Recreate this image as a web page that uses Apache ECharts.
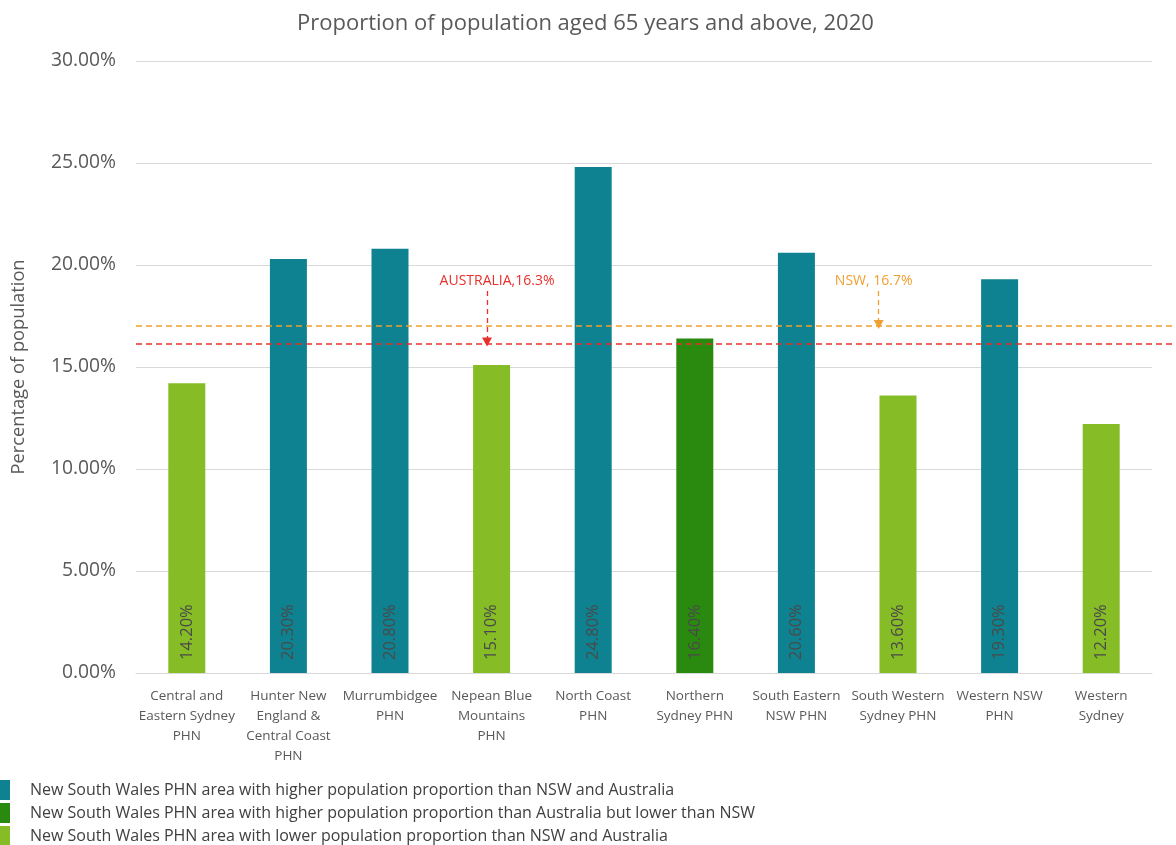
<!DOCTYPE html>
<html><head><meta charset="utf-8">
<script src="https://cdn.jsdelivr.net/npm/echarts@6/dist/echarts.min.js"></script>
<style>html,body{margin:0;padding:0;background:#fff}#c{width:1176px;height:845px}</style>
</head><body><div id="c"></div>
<script>
const categories = ["Central and\nEastern Sydney\nPHN","Hunter New\nEngland &\nCentral Coast\nPHN","Murrumbidgee\nPHN","Nepean Blue\nMountains\nPHN","North Coast\nPHN","Northern\nSydney PHN","South Eastern\nNSW PHN","South Western\nSydney PHN","Western NSW\nPHN","Western\nSydney"];
const values = [0.142,0.203,0.208,0.151,0.248,0.164,0.206,0.136,0.193,0.122];
const groups = [2,0,0,2,0,1,0,2,0,2];
const groupNames = ["New South Wales PHN area with higher population proportion than NSW and Australia","New South Wales PHN area with higher population proportion than Australia but lower than NSW","New South Wales PHN area with lower population proportion than NSW and Australia"];
const groupColors = ["#0E8290","#2A8A10","#86BC25"];
const australiaLine = 0.1615, nswLine = 0.1700;
const australiaText = "AUSTRALIA,16.3%", nswText = "NSW, 16.7%";
// annotation arrows: [x position in category units, top value]
const australiaArrow = [3.455, 0.1873];
const nswArrow = [7.31, 0.1873];

const FONT = 'Open Sans';
const grey = '#595959';
const catW = 101.6;
const chart = echarts.init(document.getElementById('c'));
const barSeries = groupNames.map((name,g)=>({
  name, type:'bar', stack:'s', barWidth:37, xAxisIndex:0, yAxisIndex:0,
  itemStyle:{color:groupColors[g]},
  data: values.map((v,i)=>groups[i]===g ? v : '-'),
  label:{show:true, position:'insideBottom', rotate:90, align:'left', verticalAlign:'middle', distance:13,
    formatter:p=>(p.value*100).toFixed(2)+'%', color:'#4a4a4a', fontSize:16.5, fontFamily:FONT}
}));
function arrow(a, lineVal, text, color, dx){
  return [{coord:[a[0], a[1]], lineStyle:{color, type:[5,4], width:1.3},
           label:{show:true, position:'start', formatter:text, color, fontSize:14, fontFamily:FONT, distance:3, offset:[dx,0]}},
          {coord:[a[0], lineVal]}];
}
chart.setOption({
  animation:false,
  title:{text:'Proportion of population aged 65 years and above, 2020', left:292, top:8,
    textStyle:{color:grey, fontSize:22, fontWeight:'normal', fontFamily:FONT}},
  legend:{orient:'vertical', left:0, top:780, height:75, padding:0, itemWidth:10, itemHeight:20, itemGap:3, icon:'rect',
    data:groupNames, textStyle:{color:'#404040', fontSize:16, lineHeight:20, fontFamily:FONT, padding:[0,0,0,15]}},
  grid:[{left:136, right:1176-136-catW*10, top:61, bottom:172},
        {left:136, right:0, top:61, bottom:172}],
  xAxis:[{type:'category', data:categories, gridIndex:0,
    axisLine:{lineStyle:{color:'#d9d9d9'}}, axisTick:{show:false},
    axisLabel:{interval:0, color:grey, fontSize:13.5, lineHeight:20, margin:13, fontFamily:FONT}},
    {type:'value', gridIndex:1, min:0, max:1040/catW, show:false}],
  yAxis:[{type:'value', min:0, max:0.30, interval:0.05, gridIndex:0,
    name:'Percentage of population', nameLocation:'middle', nameGap:108, nameRotate:90,
    nameTextStyle:{color:grey, fontSize:18.3, fontFamily:FONT},
    axisLine:{show:false}, axisTick:{show:false},
    splitLine:{lineStyle:{color:'#d9d9d9'}},
    axisLabel:{color:grey, fontSize:19.3, margin:20, fontFamily:FONT, formatter:v=>(v*100).toFixed(2)+'%'}},
    {type:'value', min:0, max:0.30, gridIndex:1, show:false}],
  series:[...barSeries,
    {type:'line', xAxisIndex:1, yAxisIndex:1, data:[], silent:true,
      markLine:{silent:true, symbol:'none', precision:4, label:{show:false},
        data:[{yAxis:nswLine, lineStyle:{color:'#F0A030', type:[6,4], width:1.5}},
              {yAxis:australiaLine, lineStyle:{color:'#E8302A', type:[6,4], width:1.5}}]}},
    {type:'line', xAxisIndex:1, yAxisIndex:1, data:[], silent:true,
      markLine:{silent:true, symbol:['none','triangle'], symbolSize:[10,9], precision:4,
        data:[arrow(australiaArrow, australiaLine+0.0008, australiaText, '#E8302A', 10),
              arrow(nswArrow, nswLine+0.0008, nswText, '#F0A030', -5)]}}
  ]
});
</script></body></html>
